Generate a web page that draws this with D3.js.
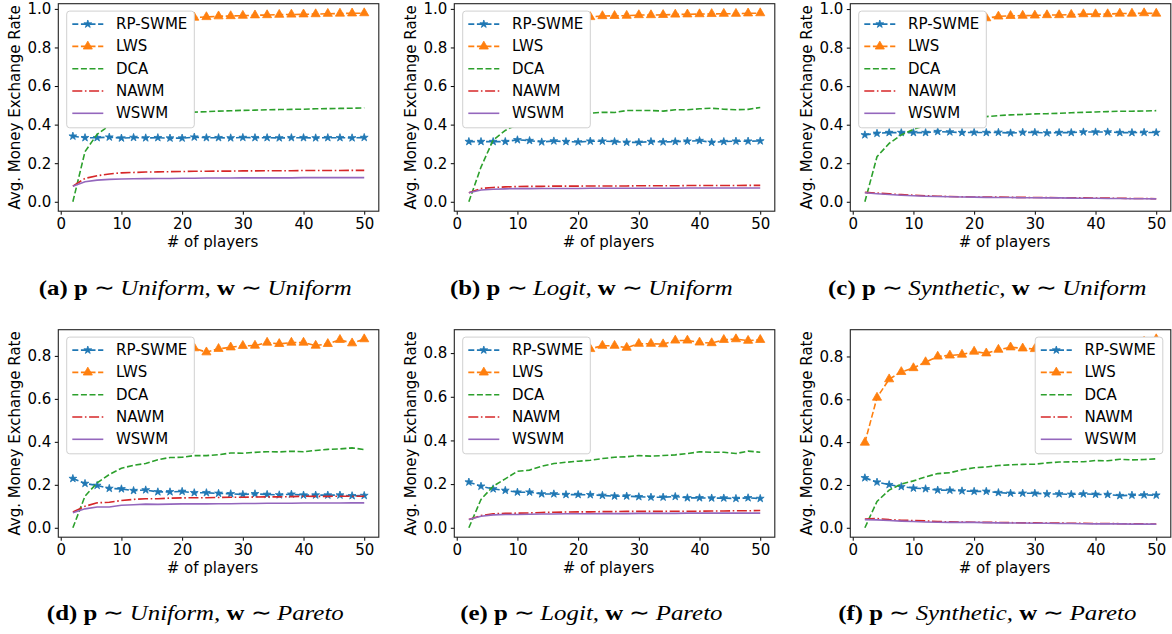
<!DOCTYPE html>
<html>
<head>
<meta charset="utf-8">
<script src="https://cdn.jsdelivr.net/npm/d3@7"></script>
<style>
  body { margin: 0; background: #fff; }
  svg { display: block; }
  .tick text { font-family: "DejaVu Sans", sans-serif; font-size: 15px; fill: #000; }
  .tick line { stroke: #000; stroke-width: 1; }
</style>
</head>
<body>
<svg id="chart" width="1172" height="634"></svg>
<script>

var players = [2, 4, 6, 8, 10, 12, 14, 16, 18, 20, 22, 24, 26, 28, 30, 32, 34, 36, 38, 40, 42, 44, 46, 48, 50];
var xTicks = [0, 10, 20, 30, 40, 50];
var yTicksTop = [0, 0.2, 0.4, 0.6, 0.8, 1.0];
var yTicksBottom = [0, 0.2, 0.4, 0.6, 0.8];

var seriesNames = ["RP-SWME", "LWS", "DCA", "NAWM", "WSWM"];

// (a) p ~ Uniform, w ~ Uniform
var rpA   = [0.34,0.332,0.332,0.335,0.33,0.333,0.331,0.332,0.33,0.33,0.335,0.332,0.332,0.331,0.333,0.332,0.332,0.331,0.332,0.332,0.331,0.332,0.332,0.331,0.333];
var lwsA  = [0.88,0.91,0.925,0.935,0.94,0.944,0.947,0.95,0.952,0.953,0.955,0.958,0.962,0.963,0.965,0.967,0.968,0.97,0.971,0.972,0.973,0.975,0.976,0.977,0.978];
var dcaA  = [0,0.26,0.35,0.395,0.42,0.435,0.445,0.452,0.457,0.462,0.465,0.467,0.47,0.472,0.474,0.475,0.477,0.478,0.479,0.48,0.482,0.483,0.484,0.485,0.487];
var nawmA = [0.081,0.121,0.135,0.144,0.15,0.152,0.154,0.155,0.156,0.157,0.158,0.158,0.159,0.159,0.16,0.16,0.161,0.161,0.161,0.162,0.162,0.162,0.162,0.163,0.163];
var wswmA = [0.081,0.104,0.112,0.116,0.118,0.119,0.12,0.121,0.121,0.122,0.122,0.123,0.123,0.123,0.124,0.124,0.124,0.124,0.124,0.125,0.125,0.125,0.125,0.125,0.125];

// (b) p ~ Logit, w ~ Uniform
var rpB   = [0.312,0.312,0.312,0.312,0.321,0.317,0.31,0.315,0.312,0.31,0.314,0.314,0.312,0.308,0.308,0.312,0.31,0.312,0.314,0.317,0.308,0.312,0.314,0.314,0.315];
var lwsB  = [0.87,0.9,0.92,0.93,0.935,0.94,0.945,0.948,0.95,0.953,0.958,0.963,0.964,0.965,0.968,0.968,0.969,0.971,0.972,0.973,0.974,0.975,0.975,0.977,0.978];
var dcaB  = [0,0.18,0.32,0.37,0.4,0.42,0.43,0.44,0.447,0.452,0.459,0.464,0.463,0.473,0.473,0.473,0.47,0.477,0.477,0.482,0.485,0.48,0.477,0.479,0.489];
var nawmB = [0.047,0.069,0.074,0.077,0.079,0.08,0.08,0.081,0.081,0.081,0.082,0.082,0.082,0.082,0.083,0.083,0.083,0.083,0.084,0.084,0.084,0.084,0.084,0.085,0.085];
var wswmB = [0.047,0.061,0.065,0.067,0.068,0.068,0.069,0.069,0.069,0.069,0.07,0.07,0.07,0.07,0.07,0.07,0.07,0.07,0.071,0.071,0.071,0.071,0.071,0.071,0.071];

// (c) p ~ Synthetic, w ~ Uniform
var rpC   = [0.347,0.355,0.359,0.359,0.359,0.359,0.364,0.362,0.359,0.36,0.359,0.36,0.357,0.36,0.36,0.357,0.359,0.359,0.362,0.362,0.362,0.359,0.359,0.36,0.359];
var lwsC  = [0.87,0.9,0.915,0.925,0.93,0.935,0.94,0.945,0.948,0.95,0.953,0.962,0.965,0.966,0.967,0.969,0.969,0.971,0.974,0.974,0.974,0.977,0.977,0.979,0.977];
var dcaC  = [0,0.234,0.303,0.347,0.376,0.395,0.41,0.42,0.428,0.435,0.442,0.447,0.451,0.453,0.456,0.457,0.459,0.462,0.464,0.466,0.468,0.47,0.47,0.471,0.473];
var nawmC = [0.049,0.045,0.041,0.037,0.034,0.031,0.029,0.027,0.026,0.025,0.024,0.024,0.023,0.023,0.022,0.022,0.021,0.021,0.02,0.019,0.019,0.018,0.017,0.017,0.016];
var wswmC = [0.047,0.042,0.038,0.034,0.031,0.029,0.027,0.026,0.025,0.024,0.023,0.022,0.022,0.021,0.021,0.02,0.02,0.019,0.018,0.018,0.017,0.017,0.016,0.016,0.015];

// (d) p ~ Uniform, w ~ Pareto
var rpD   = [0.229,0.206,0.197,0.183,0.181,0.173,0.176,0.167,0.167,0.169,0.163,0.163,0.16,0.158,0.155,0.158,0.155,0.153,0.156,0.152,0.152,0.152,0.152,0.149,0.15];
var lwsD  = [0.55,0.65,0.7,0.73,0.75,0.77,0.785,0.795,0.805,0.815,0.836,0.817,0.833,0.84,0.847,0.848,0.862,0.856,0.862,0.862,0.848,0.856,0.875,0.859,0.878];
var dcaD  = [0,0.147,0.209,0.248,0.277,0.291,0.299,0.317,0.327,0.328,0.336,0.336,0.34,0.348,0.347,0.351,0.354,0.353,0.356,0.354,0.36,0.365,0.367,0.372,0.364];
var nawmD = [0.073,0.1,0.116,0.119,0.127,0.132,0.135,0.135,0.138,0.139,0.14,0.14,0.141,0.142,0.142,0.143,0.144,0.144,0.145,0.147,0.146,0.146,0.147,0.147,0.147];
var wswmD = [0.07,0.088,0.097,0.097,0.105,0.107,0.11,0.109,0.11,0.111,0.111,0.111,0.112,0.112,0.113,0.113,0.114,0.114,0.114,0.115,0.115,0.115,0.115,0.116,0.116];

// (e) p ~ Logit, w ~ Pareto
var rpE   = [0.209,0.19,0.178,0.171,0.163,0.163,0.155,0.155,0.152,0.152,0.151,0.148,0.145,0.145,0.142,0.14,0.14,0.143,0.137,0.137,0.136,0.136,0.134,0.137,0.134];
var lwsE  = [0.55,0.64,0.69,0.72,0.74,0.76,0.77,0.785,0.795,0.805,0.819,0.834,0.834,0.825,0.843,0.843,0.841,0.858,0.858,0.849,0.846,0.861,0.864,0.857,0.861];
var dcaE  = [0,0.13,0.19,0.224,0.259,0.264,0.282,0.294,0.3,0.305,0.309,0.317,0.323,0.325,0.331,0.328,0.331,0.334,0.34,0.348,0.346,0.346,0.34,0.351,0.346];
var nawmE = [0.038,0.056,0.064,0.066,0.067,0.068,0.07,0.071,0.072,0.073,0.073,0.074,0.074,0.075,0.075,0.075,0.075,0.076,0.076,0.076,0.077,0.077,0.078,0.078,0.079];
var wswmE = [0.038,0.053,0.059,0.061,0.061,0.062,0.063,0.063,0.064,0.064,0.064,0.065,0.065,0.065,0.066,0.066,0.066,0.066,0.067,0.067,0.067,0.067,0.067,0.067,0.067];

// (f) p ~ Synthetic, w ~ Pareto
var rpF   = [0.233,0.213,0.201,0.192,0.185,0.182,0.176,0.175,0.172,0.17,0.17,0.164,0.161,0.161,0.161,0.158,0.158,0.156,0.158,0.156,0.155,0.15,0.152,0.153,0.152];
var lwsF  = [0.398,0.608,0.694,0.728,0.746,0.774,0.8,0.805,0.809,0.823,0.815,0.832,0.843,0.838,0.835,0.84,0.845,0.848,0.85,0.855,0.858,0.86,0.865,0.87,0.881];
var dcaF  = [0,0.123,0.176,0.204,0.219,0.238,0.253,0.257,0.271,0.28,0.284,0.291,0.294,0.296,0.297,0.303,0.307,0.308,0.308,0.314,0.313,0.32,0.317,0.319,0.322];
var nawmF = [0.041,0.043,0.038,0.035,0.034,0.032,0.029,0.028,0.027,0.026,0.025,0.025,0.024,0.023,0.023,0.022,0.022,0.021,0.021,0.02,0.02,0.019,0.018,0.018,0.017];
var wswmF = [0.038,0.037,0.034,0.031,0.029,0.027,0.026,0.025,0.025,0.025,0.024,0.023,0.022,0.022,0.021,0.021,0.02,0.02,0.019,0.018,0.018,0.018,0.017,0.017,0.017];

var captionTags = ["(a)", "(b)", "(c)", "(d)", "(e)", "(f)"];
var pDists = ["Uniform", "Logit", "Synthetic", "Uniform", "Logit", "Synthetic"];
var wDists = ["Uniform", "Uniform", "Uniform", "Pareto", "Pareto", "Pareto"];

var panelData = [
    [rpA, lwsA, dcaA, nawmA, wswmA],
    [rpB, lwsB, dcaB, nawmB, wswmB],
    [rpC, lwsC, dcaC, nawmC, wswmC],
    [rpD, lwsD, dcaD, nawmD, wswmD],
    [rpE, lwsE, dcaE, nawmE, wswmE],
    [rpF, lwsF, dcaF, nawmF, wswmF]
];

// styling (matplotlib tab10 look)
var colors  = ["#1f77b4", "#ff7f0e", "#2ca02c", "#d62728", "#9467bd"];
var dashes  = ["6,2.6", "6,2.6", "6,2.6", "10,2.6,1.6,2.6", null];
var symbols = [d3.symbolStar, d3.symbolTriangle, null, null, null];
var symSize = [19, 36, 0, 0, 0];

var colLeft = [58.3, 454.3, 850.3],
    rowTop  = [3.7, 329.7],
    width   = 320.5,
    height  = 207.5;

var svg = d3.select("#chart");

panelData.forEach(function(series, p) {
    var col = p % 3, row = Math.floor(p / 3);
    var left = colLeft[col], top = rowTop[row];

    var g = svg.append("g")
        .attr("transform", "translate(" + left + "," + top + ")");

    var x = d3.scaleLinear()
        .domain([players[0] - 2.4, players[players.length - 1] + 2.4])
        .range([0, width]);

    var ext = d3.extent(d3.merge(series));
    var pad = (ext[1] - ext[0]) * 0.05;
    var y = d3.scaleLinear()
        .domain([ext[0] - pad, ext[1] + pad])
        .range([height, 0]);

    g.append("clipPath").attr("id", "clip" + p)
        .append("rect").attr("width", width).attr("height", height);

    var plot = g.append("g").attr("clip-path", "url(#clip" + p + ")");

    series.forEach(function(vals, s) {
        var pts = vals.map(function(v, i) { return {x: players[i], y: v}; });
        var line = d3.line()
            .x(function(d) { return x(d.x); })
            .y(function(d) { return y(d.y); });

        plot.append("path")
            .datum(pts)
            .attr("fill", "none")
            .attr("stroke", colors[s])
            .attr("stroke-width", 1.6)
            .attr("stroke-dasharray", dashes[s])
            .attr("d", line);

        if (symbols[s]) {
            plot.selectAll(".m" + s)
                .data(pts)
                .enter()
                .append("path")
                .attr("class", "m" + s)
                .attr("transform", function(d) { return "translate(" + x(d.x) + "," + y(d.y) + ")"; })
                .attr("d", d3.symbol().type(symbols[s]).size(symSize[s]))
                .attr("fill", colors[s])
                .attr("stroke", colors[s])
                .attr("stroke-width", 0.8);
        }
    });

    // axes
    var xAxis = g.append("g")
        .attr("transform", "translate(0," + height + ")")
        .call(d3.axisBottom(x).tickValues(xTicks).tickSize(3.5).tickPadding(3.5).tickFormat(d3.format("d")));
    xAxis.select(".domain").remove();

    var yAxis = g.append("g")
        .call(d3.axisLeft(y).tickValues(row === 0 ? yTicksTop : yTicksBottom)
            .tickSize(3.5).tickPadding(3.5).tickFormat(d3.format(".1f")));
    yAxis.select(".domain").remove();

    g.append("rect")
        .attr("width", width)
        .attr("height", height)
        .attr("fill", "none")
        .attr("stroke", "#222")
        .attr("stroke-width", 1.1);

    g.append("text")
        .attr("transform", "translate(-43.3," + (height / 2) + ") rotate(-90)")
        .attr("text-anchor", "middle")
        .attr("dominant-baseline", "central")
        .style("font-family", "DejaVu Sans")
        .style("font-size", "15px")
        .text("Avg. Money Exchange Rate");

    g.append("text")
        .attr("x", x(25))
        .attr("y", height + 36)
        .attr("text-anchor", "middle")
        .style("font-family", "DejaVu Sans")
        .style("font-size", "15px")
        .text("# of players");

    // legend
    var lw = 127.6, lh = 116.7;
    var lx = (p === 5) ? width - 8 - lw : 8.4;
    var leg = g.append("g").attr("transform", "translate(" + lx + ",7.4)");
    leg.append("rect")
        .attr("width", lw).attr("height", lh)
        .attr("rx", 3)
        .attr("fill", "#fff")
        .attr("stroke", "#d0d0d0")
        .attr("stroke-width", 1);

    seriesNames.forEach(function(name, s) {
        var cy = 13 + s * 22.3;
        leg.append("line")
            .attr("x1", 5.6).attr("x2", 36.6)
            .attr("y1", cy).attr("y2", cy)
            .attr("stroke", colors[s])
            .attr("stroke-width", 1.6)
            .attr("stroke-dasharray", dashes[s]);
        if (symbols[s]) {
            leg.append("path")
                .attr("transform", "translate(21.1," + cy + ")")
                .attr("d", d3.symbol().type(symbols[s]).size(symSize[s]))
                .attr("fill", colors[s])
                .attr("stroke", colors[s])
                .attr("stroke-width", 0.8);
        }
        leg.append("text")
            .attr("x", 49.3)
            .attr("y", cy)
            .attr("dominant-baseline", "central")
            .style("font-family", "DejaVu Sans")
            .style("font-size", "15px")
            .text(name);
    });

    // caption (Palatino-like wide serif: stretch Liberation Serif a bit)
    var cap = svg.append("text")
        .attr("transform", "translate(" + (left + 137) + "," + (row === 0 ? 295 : 620) + ") scale(1.13,1)")
        .attr("text-anchor", "middle")
        .style("font-family", "'Liberation Serif', serif")
        .style("font-size", "22px");
    cap.append("tspan").style("font-weight", "bold").text(captionTags[p] + " p");
    cap.append("tspan").text(" \u223C ");
    cap.append("tspan").style("font-style", "italic").text(pDists[p] + ",");
    cap.append("tspan").style("font-weight", "bold").text(" w");
    cap.append("tspan").text(" \u223C ");
    cap.append("tspan").style("font-style", "italic").text(wDists[p]);
});

</script>
</body>
</html>
